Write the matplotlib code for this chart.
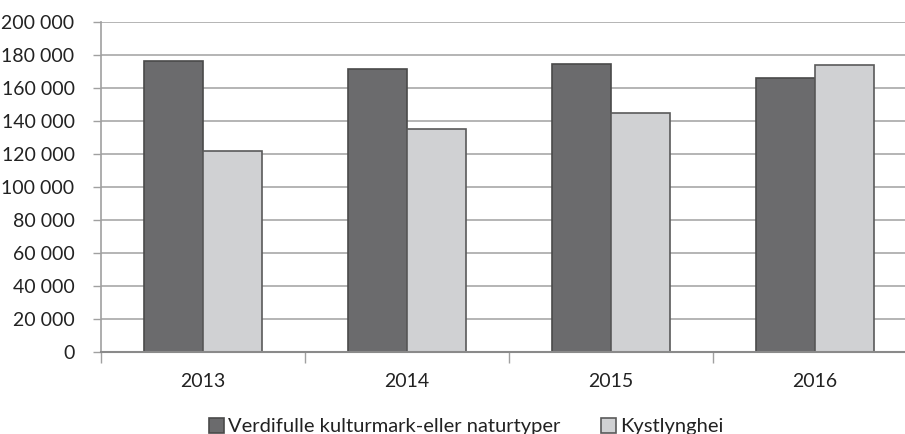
import matplotlib
matplotlib.use("Agg")
import matplotlib.pyplot as plt
import numpy as np
from matplotlib.ticker import FuncFormatter, FixedLocator

years = ["2013", "2014", "2015", "2016"]
verdifulle = [176500, 171500, 174700, 166200]
kystlynghei = [122000, 134900, 145000, 173900]
series_names = ["Verdifulle kulturmark-eller naturtyper", "Kystlynghei"]

plt.rcParams['font.family'] = ['Lato', 'DejaVu Sans']

fig = plt.figure(figsize=(9.05, 4.34), dpi=100)
ax = fig.add_axes([101/905, 1-352/434, 816/905, 330/434])

x = np.arange(len(years))
w = 0.29
ax.bar(x - w/2, verdifulle, w, color="#6b6b6d", edgecolor="#4a4a4a", linewidth=1.2,
       label=series_names[0], zorder=3)
ax.bar(x + w/2, kystlynghei, w, color="#d0d1d3", edgecolor="#5a5a5a", linewidth=1.2,
       label=series_names[1], zorder=3)

ax.set_xlim(-0.5, len(years) - 0.5)
ax.set_ylim(0, 200000)
ax.set_yticks(np.arange(0, 200001, 20000))
ax.yaxis.set_major_formatter(FuncFormatter(lambda v, p: f"{int(v):,}".replace(",", " ")))
ax.grid(axis="y", color="#a0a0a0", linewidth=1.1, zorder=0)

ax.set_xticks(x)
ax.set_xticklabels(years)
ax.xaxis.set_minor_locator(FixedLocator(np.arange(-0.5, len(years), 1.0)))
ax.tick_params(axis="x", which="major", length=0, pad=15, labelsize=14, colors="#222222")
ax.tick_params(axis="x", which="minor", length=8, color="#a0a0a0", width=1)
ax.tick_params(axis="y", length=6, color="#a0a0a0", width=1, labelsize=14,
               labelcolor="#222222", pad=13)

for s in ["top", "right"]:
    ax.spines[s].set_visible(False)
ax.spines["left"].set_color("#a0a0a0")
ax.spines["left"].set_linewidth(1.2)
ax.spines["bottom"].set_color("#8a8a8a")
ax.spines["bottom"].set_linewidth(1.5)
ax.spines["bottom"].set_zorder(4)

leg = fig.legend(loc="lower center", bbox_to_anchor=(0.515, -0.045), ncol=2, frameon=False,
                 fontsize=14.5, handlelength=0.75, handleheight=0.75, handletextpad=0.2,
                 columnspacing=2.0, labelcolor="#222222")

fig.savefig("out.png", dpi=100)
